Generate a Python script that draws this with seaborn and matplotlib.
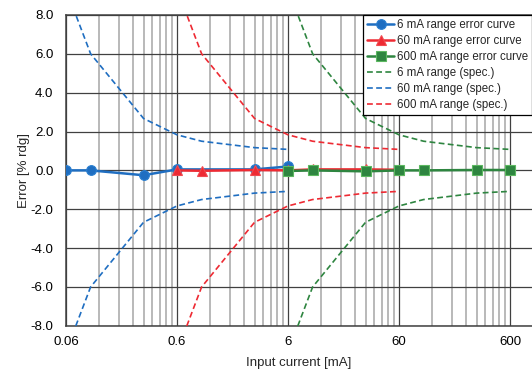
import matplotlib
matplotlib.use("Agg")
import matplotlib.pyplot as plt
import numpy as np
import seaborn as sns
from matplotlib.ticker import FixedLocator, FixedFormatter, NullFormatter

sns.set_theme(style="white")
plt.rcParams["font.family"] = ["Liberation Sans", "DejaVu Sans"]

# measured error curves [% rdg]
x_6ma = [0.06, 0.1, 0.3, 0.6, 3, 6]
err_6ma = [0.0, 0.0, -0.25, 0.05, 0.05, 0.2]

x_60ma = [0.6, 1, 3, 6, 10, 30, 60]
err_60ma = [0.0, -0.02, 0.02, 0.0, 0.05, 0.05, 0.03]

x_600ma = [6, 10, 30, 60, 100, 300, 600]
err_600ma = [-0.03, 0.0, -0.05, 0.0, 0.0, 0.02, 0.02]

# spec limits (upper bound, lower is the mirror)
spec_x_6ma = [0.06, 0.1, 0.3, 0.6, 1, 3, 6]
spec_x_60ma = [0.6, 1, 3, 6, 10, 30, 60]
spec_x_600ma = [6, 10, 30, 60, 100, 300, 600]
spec_upper = [9.33, 6.0, 2.67, 1.83, 1.5, 1.17, 1.08]

x_ticks = [0.06, 0.6, 6, 60, 600]
x_tick_labels = ["0.06", "0.6", "6", "60", "600"]

BLUE = "#1f6ec1"
RED = "#ee2a33"
GREEN = "#2e8540"

fig = plt.figure(figsize=(5.32, 3.72), dpi=100)
ax = fig.add_axes([0.124, 0.124, 0.876, 0.836])

# spec curves (dashed)
spec_sets = [
    (spec_x_600ma, GREEN, "6 mA range (spec.)"),
    (spec_x_6ma, BLUE, "60 mA range (spec.)"),
    (spec_x_60ma, RED, "600 mA range (spec.)"),
]
for xs, color, label in spec_sets:
    up = np.array(spec_upper)
    sns.lineplot(x=xs, y=up, ax=ax, color=color, lw=1.2,
                 linestyle=(0, (3.5, 2)), label=label, zorder=3, legend=False)
    sns.lineplot(x=xs, y=-up, ax=ax, color=color, lw=1.2,
                 linestyle=(0, (3.5, 2)), zorder=3, legend=False)

# error curves
sns.lineplot(x=x_6ma, y=err_6ma, ax=ax, color=BLUE, lw=1.8, marker="o",
             markersize=7, markeredgecolor="#2a7fd0", markeredgewidth=0.8,
             label="6 mA range error curve", zorder=5, legend=False)
sns.lineplot(x=x_60ma, y=err_60ma, ax=ax, color=RED, lw=1.8, marker="^",
             markersize=7.5, markeredgecolor="#f04a50", markeredgewidth=0.8,
             label="60 mA range error curve", zorder=6, legend=False)
sns.lineplot(x=x_600ma, y=err_600ma, ax=ax, color=GREEN, lw=1.8, marker="s",
             markersize=6.5, markeredgecolor="#5cb860", markeredgewidth=0.8,
             label="600 mA range error curve", zorder=7, legend=False)

ax.set_xscale("log")
ax.set_xlim(0.06, 947)
ax.set_ylim(-8, 8)

minor = [b * m for b in x_ticks[:-1] for m in range(2, 10)]
ax.xaxis.set_major_locator(FixedLocator(x_ticks))
ax.xaxis.set_major_formatter(FixedFormatter(x_tick_labels))
ax.xaxis.set_minor_locator(FixedLocator(minor))
ax.xaxis.set_minor_formatter(NullFormatter())
ax.set_yticks(np.arange(-8, 8.1, 2))
ax.set_yticklabels([f"{v:.1f}" for v in np.arange(-8, 8.1, 2)])

ax.grid(True, which="major", axis="both", color="#404040", lw=0.9, zorder=1)
ax.grid(True, which="minor", axis="x", color="#a6a6a6", lw=1.1, zorder=1)
ax.set_axisbelow(True)

for side in ["left", "bottom", "top"]:
    ax.spines[side].set_color("#404040")
    ax.spines[side].set_linewidth(1.1)
ax.spines["right"].set_visible(False)

ax.tick_params(axis="y", which="both", length=0, labelsize=9.5, colors="#000000", pad=9)
ax.tick_params(axis="x", which="both", length=0, labelsize=9.5, colors="#000000", pad=7)
ax.set_xlabel("Input current [mA]", fontsize=9.5, labelpad=7)
ax.set_ylabel("Error [% rdg]", fontsize=9.5, labelpad=0.5)

handles, labels = ax.get_legend_handles_labels()
order = ["6 mA range error curve", "60 mA range error curve", "600 mA range error curve",
         "6 mA range (spec.)", "60 mA range (spec.)", "600 mA range (spec.)"]
hmap = dict(zip(labels, handles))
leg = ax.legend([hmap[k] for k in order], order, loc="upper right",
                bbox_to_anchor=(1.0, 1.0), fontsize=8.3, frameon=True, fancybox=False,
                framealpha=1, edgecolor="#000000", borderpad=0.35, labelspacing=0.35,
                handlelength=2.3, handletextpad=0.25, borderaxespad=0.0)
leg.get_frame().set_linewidth(0.9)
leg.set_zorder(10)

fig.savefig("out.png", dpi=100)
